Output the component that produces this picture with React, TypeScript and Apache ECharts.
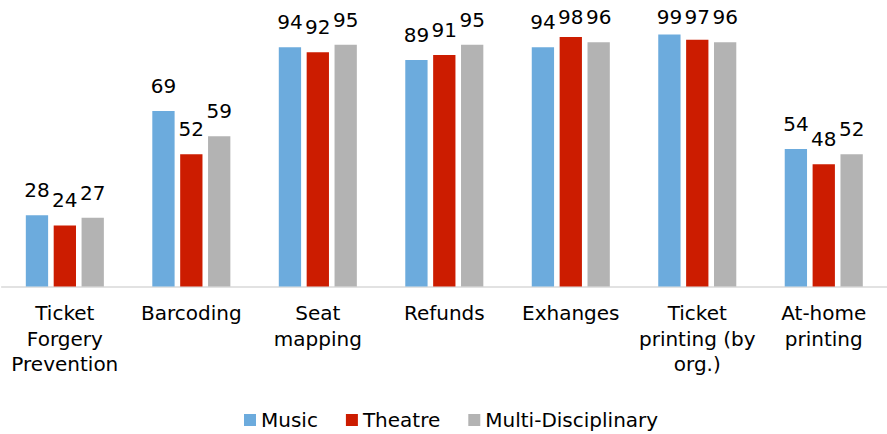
import React, { useEffect, useRef } from "react";
import * as echarts from "echarts";

const categories = [
  "Ticket\nForgery\nPrevention",
  "Barcoding",
  "Seat\nmapping",
  "Refunds",
  "Exhanges",
  "Ticket\nprinting (by\norg.)",
  "At-home\nprinting",
];
const music = [28, 69, 94, 89, 94, 99, 54];
const theatre = [24, 52, 92, 91, 98, 97, 48];
const multi = [27, 59, 95, 95, 96, 96, 52];
const seriesNames = ["Music", "Theatre", "Multi-Disciplinary"];
const colors = ["#6CABDD", "#CC1C00", "#B3B3B3"];

const FONT = "DejaVu Sans";
const GRID_TOP = 32;
const GRID_H = 254.5;
const Y_MAX = 100;
const LABEL_GAP = 15;
const LABEL_MIN_BOTTOM = 27;

function withLabels(values: number[]) {
  return values.map((v) => {
    const barTop = GRID_TOP + ((Y_MAX - v) / Y_MAX) * GRID_H;
    const dist = Math.min(LABEL_GAP, barTop - LABEL_MIN_BOTTOM);
    return { value: v, label: { distance: dist } };
  });
}

export default function App() {
  const ref = useRef<HTMLDivElement>(null);
  useEffect(() => {
    if (!ref.current) return;
    const chart = echarts.init(ref.current, null, { renderer: "svg" });
    const all = [music, theatre, multi];
    chart.setOption({
      animation: false,
      backgroundColor: "#ffffff",
      textStyle: { fontFamily: FONT },
      legend: {
        data: seriesNames,
        left: 244,
        top: 410,
        padding: 0,
        icon: "rect",
        itemWidth: 12,
        itemHeight: 12,
        itemGap: 28,
        textStyle: { fontFamily: FONT, fontSize: 20, color: "#000" },
      },
      grid: { left: 1.6, width: 887, top: GRID_TOP, height: GRID_H, containLabel: false },
      xAxis: {
        type: "category",
        data: categories,
        axisTick: { show: false },
        axisLine: { lineStyle: { color: "#D9D9D9", width: 1.5 } },
        axisLabel: {
          interval: 0,
          margin: 14,
          fontFamily: FONT,
          fontSize: 20,
          lineHeight: 25.5,
          color: "#000",
        },
      },
      yAxis: {
        type: "value",
        min: 0,
        max: Y_MAX,
        show: false,
        splitLine: { show: false },
      },
      series: all.map((vals, i) => ({
        name: seriesNames[i],
        type: "bar",
        data: withLabels(vals),
        barWidth: 22.3,
        barGap: "25%",
        itemStyle: { color: colors[i] },
        label: {
          show: true,
          position: "top",
          fontFamily: FONT,
          fontSize: 20,
          color: "#000",
        },
      })),
    });
    return () => chart.dispose();
  }, []);
  return (
    <div
      ref={ref}
      style={{ position: "fixed", left: 0, top: 0, width: 887, height: 434 }}
    />
  );
}
